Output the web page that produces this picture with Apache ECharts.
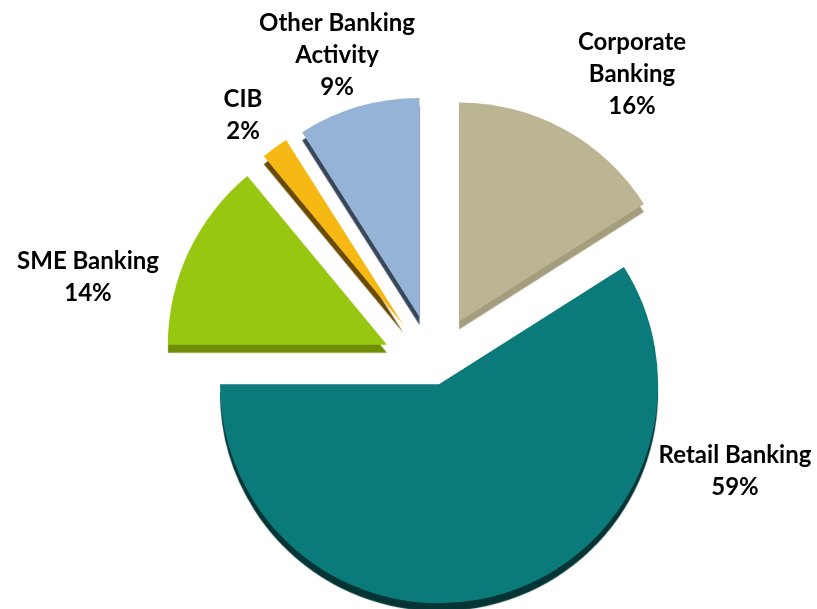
<!DOCTYPE html>
<html>
<head>
<meta charset="utf-8">
<script src="https://cdn.jsdelivr.net/npm/echarts@6/dist/echarts.min.js"></script>
<style>
  html, body { margin: 0; padding: 0; background: #fff; }
  #chart { width: 817px; height: 609px; }
</style>
</head>
<body>
<div id="chart"></div>
<script>
// segments, clockwise from 12 o'clock
const segments = ['Corporate\nBanking', 'Retail Banking', 'SME Banking', 'CIB', 'Other Banking\nActivity']
const shares = [16, 59, 14, 2, 9]
const topColors = ['#bcb593', '#0a7b7a', '#98c711', '#f6b914', '#95b3d6']
const sideColors = ['#a49e7e', '#043433', '#6e8d05', '#694a00', '#38465a']

// label anchor points (layout only)
const labelPos = [[632, 74], [735, 471], [88, 277], [243, 115], [337, 55]]

const chart = echarts.init(document.getElementById('chart'))

// one series per explode distance, other slices kept transparent as placeholders
function buildData(show) {
  return segments.map((name, i) => {
    const on = show(i)
    return {
      name: name,
      value: shares[i],
      selected: on,
      itemStyle: on
        ? { color: topColors[i], shadowColor: sideColors[i], shadowOffsetY: 8, shadowOffsetX: 0, shadowBlur: 1 }
        : { color: 'rgba(0,0,0,0)' }
    }
  })
}

const base = {
  type: 'pie',
  center: [434, 367],
  radius: 219,
  startAngle: 90,
  clockwise: true,
  silent: true,
  animation: false,
  emphasis: { disabled: true },
  label: { show: false },
  labelLine: { show: false }
}

// slice labels as text, percentages from the shares
const total = shares.reduce((a, b) => a + b, 0)
const labels = segments.map((name, i) => ({
  type: 'text',
  x: labelPos[i][0],
  y: labelPos[i][1],
  silent: true,
  style: {
    text: name + '\n' + Math.round(shares[i] / total * 100) + '%',
    fontFamily: 'Lato, Open Sans, sans-serif',
    fontWeight: 'bold',
    fontSize: 24,
    lineHeight: 32,
    fill: '#000',
    align: 'center',
    verticalAlign: 'middle'
  }
}))

chart.setOption({
  backgroundColor: '#fff',
  graphic: labels,
  series: [
    Object.assign({}, base, {
      name: 'retail',
      selectedMode: 'single',
      selectedOffset: 18,
      data: buildData(i => i === 1)
    }),
    Object.assign({}, base, {
      name: 'others',
      selectedMode: 'multiple',
      selectedOffset: 52,
      data: buildData(i => i !== 1)
    })
  ]
})
</script>
</body>
</html>
